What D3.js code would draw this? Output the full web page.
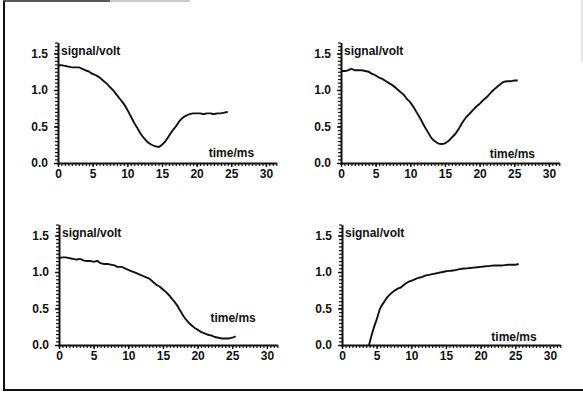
<!DOCTYPE html>
<html>
<head>
<meta charset="utf-8">
<script src="https://cdn.jsdelivr.net/npm/d3@7"></script>
<style>
  body { margin: 0; background: #fff; }
  text { font-family: "Liberation Sans", Arial, sans-serif; font-weight: bold; fill: #111; }
</style>
</head>
<body>
<div id="container"></div>
<script>
var svgWidth = 583;
var svgHeight = 394;

// time in ms, signal in volt
var time1 = [0,0.5,1,1.5,2,2.5,3,3.5,4,4.5,5,5.5,6,6.5,7,7.5,8,8.5,9,9.5,10,10.5,11,11.5,12,12.5,13,13.5,14,14.5,15,15.5,16,16.5,17,17.5,18,18.5,19,19.5,20,20.5,21,21.5,22,22.5,23,23.5,24,24.5];
var signal1 = [1.34,1.34,1.33,1.32,1.31,1.31,1.31,1.29,1.27,1.25,1.22,1.20,1.17,1.13,1.09,1.04,0.99,0.93,0.87,0.81,0.73,0.64,0.55,0.47,0.39,0.33,0.28,0.25,0.23,0.22,0.25,0.30,0.37,0.44,0.50,0.57,0.62,0.65,0.67,0.68,0.68,0.68,0.67,0.68,0.68,0.67,0.68,0.68,0.69,0.70];

var time2 = [0,0.5,1,1.5,2,2.5,3,3.5,4,4.5,5,5.5,6,6.5,7,7.5,8,8.5,9,9.5,10,10.5,11,11.5,12,12.5,13,13.5,14,14.5,15,15.5,16,16.5,17,17.5,18,18.5,19,19.5,20,20.5,21,21.5,22,22.5,23,23.5,24,24.5,25,25.5];
var signal2 = [1.26,1.26,1.27,1.29,1.27,1.27,1.27,1.26,1.25,1.22,1.20,1.17,1.15,1.12,1.09,1.06,1.02,0.98,0.94,0.88,0.83,0.76,0.68,0.60,0.51,0.43,0.35,0.30,0.27,0.26,0.27,0.30,0.35,0.40,0.47,0.55,0.62,0.67,0.72,0.77,0.81,0.86,0.90,0.95,1.00,1.04,1.08,1.11,1.12,1.12,1.13,1.13];

var time3 = [0,0.5,1,1.5,2,2.5,3,3.5,4,4.5,5,5.5,6,6.5,7,7.5,8,8.5,9,9.5,10,10.5,11,11.5,12,12.5,13,13.5,14,14.5,15,15.5,16,16.5,17,17.5,18,18.5,19,19.5,20,20.5,21,21.5,22,22.5,23,23.5,24,24.5,25,25.5];
var signal3 = [1.19,1.20,1.20,1.19,1.18,1.17,1.18,1.16,1.15,1.15,1.14,1.15,1.12,1.11,1.11,1.10,1.09,1.07,1.07,1.05,1.03,1.01,0.99,0.97,0.95,0.93,0.91,0.87,0.83,0.80,0.76,0.72,0.67,0.61,0.55,0.47,0.39,0.33,0.28,0.24,0.21,0.18,0.16,0.14,0.13,0.11,0.10,0.09,0.09,0.09,0.10,0.12];

var time4 = [3.9,4.5,5,5.5,6,6.5,7,7.5,8,8.5,9,9.5,10,10.5,11,11.5,12,12.5,13,13.5,14,14.5,15,16,17,18,19,20,21,22,23,24,25,25.5];
var signal4 = [0.00,0.21,0.35,0.50,0.58,0.65,0.70,0.74,0.77,0.79,0.83,0.86,0.88,0.90,0.92,0.93,0.95,0.96,0.97,0.98,0.99,1.00,1.01,1.02,1.04,1.05,1.06,1.07,1.08,1.09,1.09,1.10,1.10,1.11];

var xTicks = [0, 5, 10, 15, 20, 25, 30];
var yTicks = [0.0, 0.5, 1.0, 1.5];

var panels = [
    {t: time1, v: signal1, ox: 58, oy: 163, labelT: 28.3, labelV: 0.08},
    {t: time2, v: signal2, ox: 341, oy: 163, labelT: 28.0, labelV: 0.07},
    {t: time3, v: signal3, ox: 59, oy: 345, labelT: 28.4, labelV: 0.31},
    {t: time4, v: signal4, ox: 342, oy: 345, labelT: 28.1, labelV: 0.05}
];

var svg = d3.select('body').select('#container').append('svg')
        .attr("width", svgWidth)
        .attr("height", svgHeight)
;

// scanned frame
svg.append('line').attr('x1', 4).attr('y1', 1).attr('x2', 4).attr('y2', 391)
    .style('stroke', '#111').style('stroke-width', 2);
svg.append('line').attr('x1', 4).attr('y1', 390).attr('x2', 583).attr('y2', 390)
    .style('stroke', '#111').style('stroke-width', 2);
svg.append('line').attr('x1', 3).attr('y1', 1).attr('x2', 110).attr('y2', 1)
    .style('stroke', '#222').style('stroke-width', 1.5);
svg.append('line').attr('x1', 110).attr('y1', 1).attr('x2', 190).attr('y2', 1)
    .style('stroke', '#bbb').style('stroke-width', 1.5);
svg.append('line').attr('x1', 582).attr('y1', 0).attr('x2', 582).attr('y2', 62)
    .style('stroke', '#ccc').style('stroke-width', 1);

var pxPerMs = 6.93;
var pxPerVolt = 73;

panels.forEach(function (p) {
    var x = d3.scaleLinear().domain([0, 31.5]).range([0, 31.5 * pxPerMs]);
    var y = d3.scaleLinear().domain([-0.02, 1.65]).range([0.02 * pxPerVolt, -1.65 * pxPerVolt]);

    var g = svg.append('g')
        .attr("transform", "translate(" + p.ox + "," + p.oy + ")");

    // minor ticks
    g.append('g')
        .call(d3.axisBottom(x).tickValues(d3.range(0, 31.6, 0.5)).tickSize(3).tickSizeOuter(0).tickFormat(''))
        .call(function (a) { a.select('.domain').remove(); })
        .selectAll('line').style('stroke', '#111').style('stroke-width', 1.2);
    g.append('g')
        .call(d3.axisLeft(y).tickValues(d3.range(0, 1.66, 0.05)).tickSize(3).tickSizeOuter(0).tickFormat(''))
        .call(function (a) { a.select('.domain').remove(); })
        .selectAll('line').style('stroke', '#111').style('stroke-width', 1.2);

    // major ticks with labels
    var xAxis = g.append('g')
        .call(d3.axisBottom(x).tickValues(xTicks).tickSize(4).tickSizeOuter(0).tickPadding(2));
    xAxis.select('.domain').style('stroke', '#111').style('stroke-width', 2);
    xAxis.selectAll('line').style('stroke', '#111').style('stroke-width', 1.4);
    xAxis.selectAll('text').style('font-size', '12px').style('font-family', '"Liberation Sans", Arial, sans-serif').style('font-weight', 'bold').style('fill', '#111');

    var yAxis = g.append('g')
        .call(d3.axisLeft(y).tickValues(yTicks).tickSize(4).tickSizeOuter(0).tickPadding(6).tickFormat(d3.format('.1f')));
    yAxis.select('.domain').style('stroke', '#111').style('stroke-width', 2);
    yAxis.selectAll('line').style('stroke', '#111').style('stroke-width', 1.4);
    yAxis.selectAll('text').style('font-size', '12px').style('font-family', '"Liberation Sans", Arial, sans-serif').style('font-weight', 'bold').style('fill', '#111');

    var pts = p.t.map(function (t, i) { return [t, p.v[i]]; });
    var line = d3.line()
        .x(function (d) { return x(d[0]); })
        .y(function (d) { return y(d[1]); })
        .curve(d3.curveMonotoneX);

    g.append('path')
        .datum(pts)
        .attr('d', line)
        .style('fill', 'none')
        .style('stroke', '#111')
        .style('stroke-width', 1.9);

    g.append('text')
        .attr('x', 3)
        .attr('y', y(1.48))
        .style('font-size', '12px')
        .text('signal/volt');

    g.append('text')
        .attr('x', x(p.labelT))
        .attr('y', y(p.labelV))
        .attr('text-anchor', 'end')
        .style('font-size', '12px')
        .text('time/ms');
});
</script>
</body>
</html>
